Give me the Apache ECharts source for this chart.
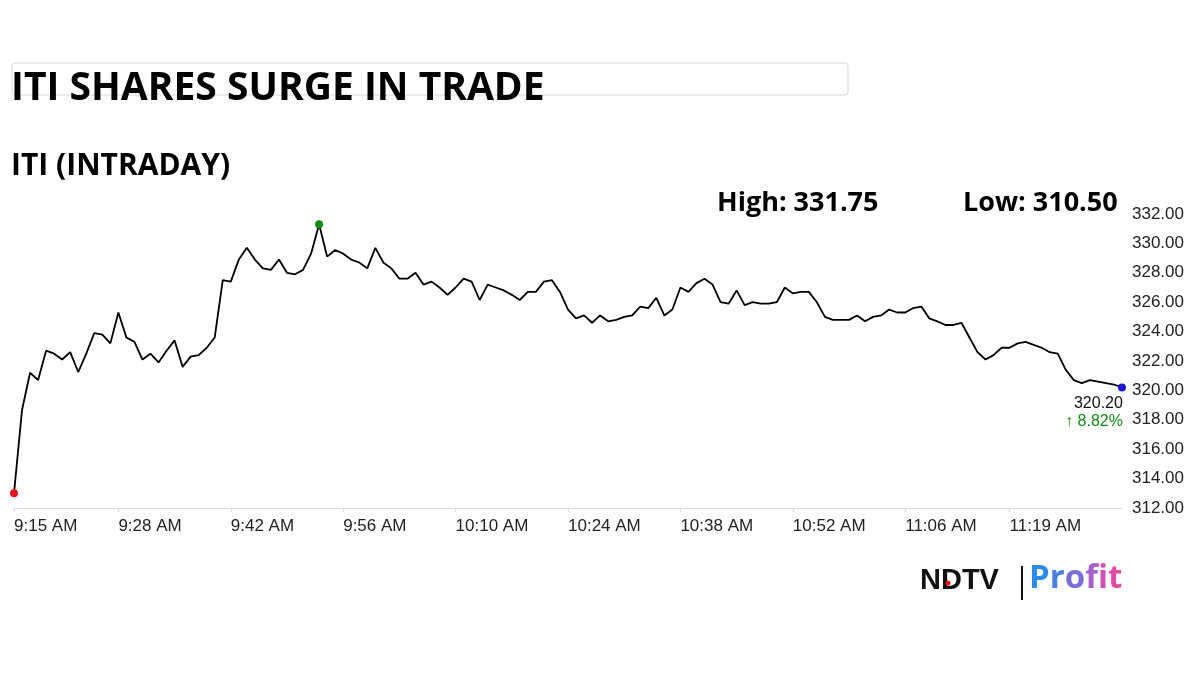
<!DOCTYPE html>
<html><head><meta charset="utf-8">
<script src="https://cdn.jsdelivr.net/npm/echarts@6/dist/echarts.min.js"></script>
<style>html,body{margin:0;padding:0;background:#fff}#c{width:1200px;height:675px}</style>
</head><body><div id="c"></div>
<script>
const prices = [313.0,318.67,321.2,320.7,322.7,322.5,322.1,322.6,321.25,322.5,323.9,323.8,323.2,325.3,323.6,323.3,322.1,322.5,321.9,322.7,323.4,321.6,322.3,322.4,322.9,323.6,327.5,327.4,328.9,329.7,328.9,328.3,328.2,328.9,328.0,327.9,328.2,329.3,331.3,329.1,329.55,329.3,328.9,328.7,328.3,329.7,328.7,328.3,327.6,
327.6,328.0,327.2,327.4,327.0,326.5,327.0,327.6,327.4,326.15,327.2,327.0,326.8,326.5,326.15,326.7,326.7,327.4,327.5,326.7,325.5,324.9,325.1,324.6,325.1,324.7,324.8,325.0,325.1,325.7,325.6,326.3,325.1,325.5,327.0,326.7,327.3,327.6,327.2,326.0,325.9,326.8,325.8,326.0,325.9,325.9,326.0,327.0,
326.6,326.7,326.7,326.0,325.0,324.8,324.8,324.8,325.1,324.7,325.0,325.1,325.5,325.3,325.3,325.6,325.7,324.9,324.7,324.45,324.45,324.6,323.6,322.6,322.1,322.4,322.9,322.9,323.2,323.3,323.1,322.9,322.6,322.5,321.4,320.7,320.5,320.7,320.6,320.5,320.4,320.2];
const times = [];
for (let i = 0; i < prices.length; i++) { const t = 9*60+15+i; let h = Math.floor(t/60), m = t%60; times.push(h + ':' + String(m).padStart(2,'0') + ' AM'); }
const tickLabels = ['9:15 AM','9:28 AM','9:42 AM','9:56 AM','10:10 AM','10:24 AM','10:38 AM','10:52 AM','11:06 AM','11:19 AM'];
const highVal = '331.75', lowVal = '310.50', lastVal = '320.20', changePct = '8.82%';

const chart = echarts.init(document.getElementById('c'));
const maxIdx = prices.indexOf(Math.max(...prices));
const last = prices.length-1;
const F = '"Open Sans", Arial, sans-serif';
chart.setOption({
  animation:false,
  grid:{left:14,right:78,top:214,bottom:167},
  graphic:[
    {type:'rect',shape:{x:12,y:63,width:836,height:32,r:3},style:{fill:'#fff',stroke:'#d6d6d6',lineWidth:1}},
    {type:'text',left:11,top:69,style:{text:'ITI SHARES SURGE IN TRADE',font:'bold 39px '+F,fill:'#000'}},
    {type:'text',left:11,top:151,style:{text:'ITI (INTRADAY)',font:'bold 30px '+F,fill:'#000'}},
    {type:'text',left:717,top:190,style:{text:'High: '+highVal,font:'bold 27px '+F,fill:'#000'}},
    {type:'text',left:963,top:190,style:{text:'Low: '+lowVal,font:'bold 27px '+F,fill:'#000'}},
    {type:'text',left:920,top:566,style:{text:'NDTV',font:'bold 29px "Liberation Sans", Arial, sans-serif',fill:'#111'}},
    {type:'circle',shape:{cx:948,cy:583,r:2.5},style:{fill:'#e8141a'}},
    {type:'rect',shape:{x:1021,y:566,width:2,height:34},style:{fill:'#111'}},
    {type:'text',left:1029,top:562,style:{text:'{a|P}{b|r}{c|o}{d|f}{e|i}{f|t}',rich:{
      a:{fill:'#2b8be6',font:'bold 33px '+F},b:{fill:'#4b7fe3',font:'bold 33px '+F},c:{fill:'#7a6fd9',font:'bold 33px '+F},
      d:{fill:'#a85fcc',font:'bold 33px '+F},e:{fill:'#cf52b5',font:'bold 33px '+F},f:{fill:'#e64aa2',font:'bold 33px '+F}}}}
  ],
  xAxis:{type:'category',data:times,boundaryGap:false,
    axisLine:{lineStyle:{color:'#e0e0e0'}},axisTick:{show:true,alignWithLabel:true,length:4,interval:(i,v)=>tickLabels.includes(v),lineStyle:{color:'#ddd'}},
    axisLabel:{interval:(i,v)=>tickLabels.includes(v),align:'left',color:'#222',fontSize:17,fontFamily:'Arial, "Liberation Sans", sans-serif',margin:10},
    splitLine:{show:false}},
  yAxis:{type:'value',position:'right',min:312,max:332,interval:2,
    axisLine:{show:false},axisTick:{show:false},splitLine:{show:false},
    axisLabel:{formatter:v=>v.toFixed(2),color:'#222',fontSize:17,fontFamily:'Arial, "Liberation Sans", sans-serif',margin:10}},
  series:[{type:'line',data:prices,showSymbol:false,lineStyle:{color:'#000',width:1.8},
    markPoint:{symbol:'circle',symbolSize:8,label:{show:false},data:[
      {coord:[0,prices[0]],itemStyle:{color:'#e8141a'}},
      {coord:[maxIdx,prices[maxIdx]],itemStyle:{color:'#138a13'}},
      {coord:[last,prices[last]],itemStyle:{color:'#1a1acc'}},
      {coord:[last,prices[last]],symbolSize:0,label:{show:true,position:'bottom',offset:[-28,2],lineHeight:18,
        formatter:'{a|'+lastVal+'}\n{b|↑ '+changePct+'}',rich:{a:{color:'#111',fontSize:16,fontFamily:'Arial',align:'right'},b:{color:'#138a13',fontSize:16,fontFamily:'Arial',align:'right'}}}}
    ]}}]
});
</script></body></html>
